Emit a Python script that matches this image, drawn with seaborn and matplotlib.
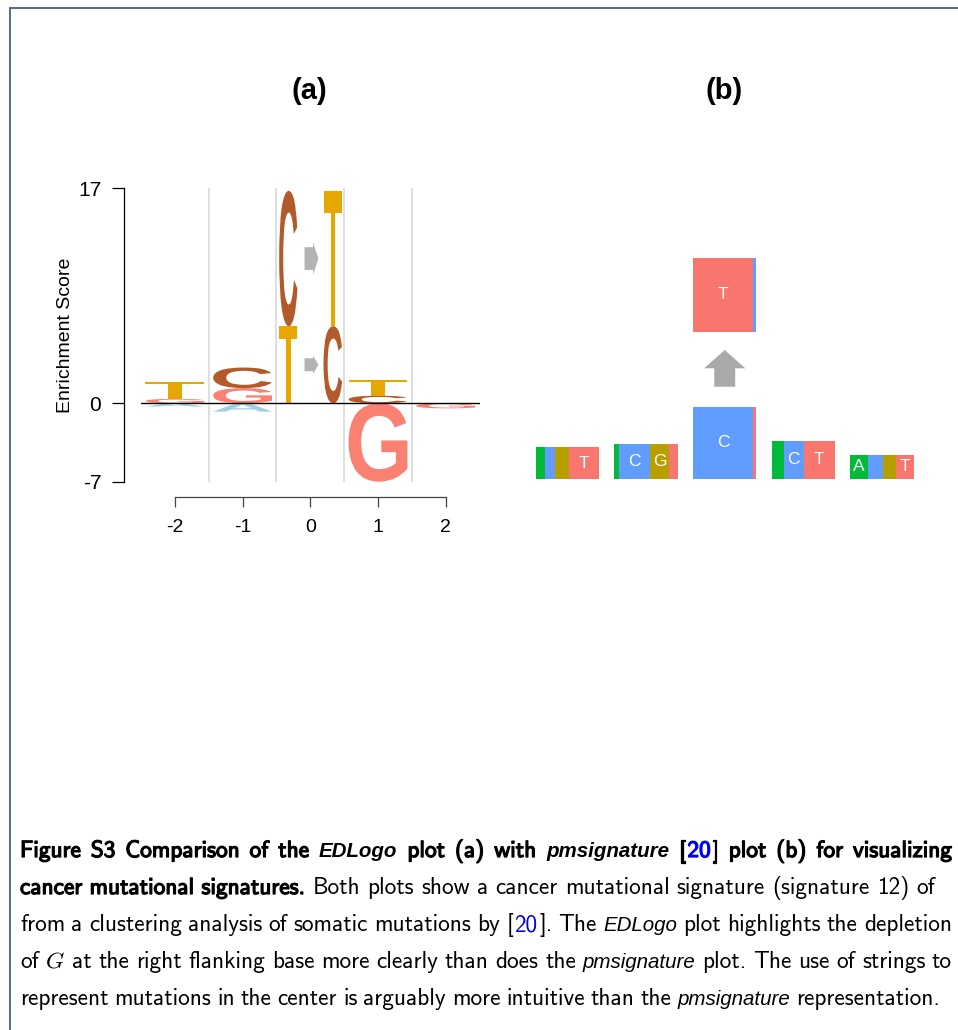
import numpy as np
import matplotlib
matplotlib.use('Agg')
import matplotlib.pyplot as plt
import seaborn as sns
from matplotlib.textpath import TextPath
from matplotlib.patches import PathPatch, Polygon
from matplotlib.font_manager import FontProperties
from matplotlib.transforms import Affine2D, IdentityTransform
from matplotlib.lines import Line2D
import matplotlib.patheffects as pe

# ---------------- data: panel (a) EDLogo ----------------
flank_pos = [-2, -1, 1, 2]
up_letters = [['G', 'T'], ['G', 'C'], ['C', 'T'], []]
up_heights = [[0.35, 1.37], [1.2, 1.63], [0.6, 1.26], []]
down_letters = [['A'], ['A'], ['G'], ['G']]
down_heights = [[0.3], [0.75], [7.0], [0.45]]
mut_from = ['T', 'C']
mut_to = ['C', 'T']
mut_heights = [6.1, 10.7]
x_ticks = [-2, -1, 0, 1, 2]
y_ticks = [-7, 0, 17]
logo_colors = {'A': '#A6CEE3', 'C': '#B35A2A', 'G': '#FA8072', 'T': '#E6A800'}
logo_arrow_color = '#B3B3B3'

# ---------------- data: panel (b) pmsignature ----------------
bases = ['A', 'C', 'G', 'T']
flank_probs = [[0.143, 0.159, 0.222, 0.476],
               [0.079, 0.476, 0.309, 0.136],
               [0.190, 0.317, 0.000, 0.493],
               [0.281, 0.240, 0.198, 0.281]]
flank_heights = [0.50, 0.55, 0.60, 0.38]
ref_bases = ['C', 'T']
ref_probs = [0.95, 0.05]
ref_height = 1.14
alt_bases = ['T', 'C']
alt_probs = [0.95, 0.05]
alt_height = 1.165
pm_colors = {'A': '#00BA38', 'C': '#619CFF', 'G': '#B79F00', 'T': '#F8766D'}
pm_arrow_color = '#A9A9A9'

# ---------------- style ----------------
sns.set_theme(style='white')
plt.rcParams['font.family'] = ['Liberation Sans', 'DejaVu Sans']
plt.rcParams['axes.unicode_minus'] = False
plt.rcParams['mathtext.fontset'] = 'cm'
for k in ['text.color', 'axes.labelcolor', 'xtick.color', 'ytick.color']:
    plt.rcParams[k] = 'black'

W, H = 958, 1030
fig = plt.figure(figsize=(W / 100, H / 100), dpi=100)
fig.patch.set_facecolor('white')

GLYPH_FP = FontProperties(family='Liberation Sans', weight='bold')


def draw_glyph(ax, ch, x0, y0, w, h, color):
    tp = TextPath((0, 0), ch, size=1, prop=GLYPH_FP)
    bb = tp.get_extents()
    tr = Affine2D().translate(-bb.x0, -bb.y0).scale(w / bb.width, h / bb.height).translate(x0, y0)
    ax.add_patch(PathPatch(tr.transform_path(tp), fc=color, ec='none', lw=0, zorder=2))


# ---------------- panel (a) ----------------
NEG = 0.886


def fwd(y):
    y = np.asarray(y, dtype=float)
    return np.where(y >= 0, y, y * NEG)


def inv(v):
    v = np.asarray(v, dtype=float)
    return np.where(v >= 0, v, v / NEG)


ax = fig.add_axes([141.05 / W, (H - 481.7) / H, 338.5 / W, 293.3 / H])
ax.set_yscale('function', functions=(fwd, inv))
ax.set_xlim(-2.5, 2.5)
ax.set_ylim(-7, 17)
ax.set_xticks(x_ticks)
ax.set_xticklabels([str(v) for v in x_ticks])
ax.set_yticks(y_ticks)
ax.set_yticklabels([str(v) for v in y_ticks])
ax.yaxis.set_minor_locator(matplotlib.ticker.NullLocator())
ax.set_facecolor('white')

ax.vlines([-1.5, -0.5, 0.5, 1.5], -7, 17, color='#D9D9D9', lw=1.2, zorder=0)
ax.axhline(0, color='black', lw=1.0, zorder=3)

LW = 0.87
for p, ul, uh, dl, dh in zip(flank_pos, up_letters, up_heights, down_letters, down_heights):
    base = 0.0
    for ch, h in zip(ul, uh):
        draw_glyph(ax, ch, p - LW / 2, base, LW, h, logo_colors[ch])
        base += h
    base = 0.0
    for ch, h in zip(dl, dh):
        draw_glyph(ax, ch, p - LW / 2, base - h, LW, h, logo_colors[ch])
        base -= h

base = 0.0
for fr, to, h in zip(mut_from, mut_to, mut_heights):
    draw_glyph(ax, fr, -0.46, base, 0.27, h, logo_colors[fr])
    draw_glyph(ax, to, 0.195, base, 0.275, h, logo_colors[to])
    mid = base + h / 2
    ah = 0.24 * h
    bh = 0.70 * ah
    x0, x1, x2 = -0.085, 0.04, 0.12
    arrow = Polygon([[x0, mid - bh / 2], [x1, mid - bh / 2], [x1, mid - ah / 2], [x2, mid],
                     [x1, mid + ah / 2], [x1, mid + bh / 2], [x0, mid + bh / 2]],
                    closed=True, fc=logo_arrow_color, ec='none', zorder=2)
    ax.add_patch(arrow)
    base += h

ax.set_ylabel('Enrichment Score', fontsize=14, labelpad=3, color='black')
ax.tick_params(axis='y', length=8.6, width=0.9, pad=8, labelsize=15, colors='black', left=True)
ax.tick_params(axis='x', length=7.2, width=0.9, pad=9, labelsize=14, colors='black', bottom=True,
               direction='out')
for s in ['left', 'bottom']:
    ax.spines[s].set_color('black')
    ax.spines[s].set_linewidth(0.9)
sns.despine(ax=ax, offset={'left': 12, 'bottom': 11}, trim=True)
ax.spines['bottom'].set_color('#444444')
ax.tick_params(axis='x', color='#444444')

fig.text(309 / W, 1 - 91 / H, '(a)', ha='center', va='center', fontsize=21, fontweight='bold',
         color='black')
fig.text(724 / W, 1 - 91 / H, '(b)', ha='center', va='center', fontsize=21, fontweight='bold',
         color='black')

# ---------------- panel (b) ----------------
PXU = 63.5
bx0, bx1, by0, by1 = 520, 930, 490, 240
axb = fig.add_axes([bx0 / W, (H - by0) / H, (bx1 - bx0) / W, (by0 - by1) / H])
axb.set_xlim((bx0 - 567.5) / PXU, (bx1 - 567.5) / PXU)
axb.set_ylim((479 - by0) / PXU, (479 - by1) / PXU)
axb.axis('off')

SPACING = 1.238
slots = [0, 1, 3, 4]


def stacked_box(axx, cx, y0, probs, names, height, label_min):
    lefts = cx - 0.5 + np.concatenate([[0], np.cumsum(probs)[:-1]])
    axx.bar(lefts, [height] * len(probs), width=probs, bottom=y0, align='edge',
            color=[pm_colors[n] for n in names], linewidth=0)
    for l, pr, n in zip(lefts, probs, names):
        if pr >= label_min:
            axx.text(l + pr / 2, y0 + height / 2, n, ha='center', va='center', color='white',
                     fontsize=12.5)


for s, probs, h in zip(slots, flank_probs, flank_heights):
    stacked_box(axb, s * SPACING, 0.0, probs, bases, h, 0.25)

cxc = 2 * SPACING
stacked_box(axb, cxc, 0.0, ref_probs, ref_bases, ref_height, 0.25)
alt_y0 = (479 - 331.7) / PXU
stacked_box(axb, cxc, alt_y0, alt_probs, alt_bases, alt_height, 0.25)
ab0, ab1, atip = 1.453, 1.743, 2.031
axb.add_patch(Polygon([[cxc - 0.165, ab0], [cxc + 0.165, ab0], [cxc + 0.165, ab1], [cxc + 0.325, ab1],
                       [cxc, atip], [cxc - 0.325, ab1], [cxc - 0.165, ab1]],
                      closed=True, fc=pm_arrow_color, ec='none'))

# ---------------- frame lines ----------------
fig.add_artist(Line2D([9.5 / W, 9.5 / W], [0, 1 - 7.5 / H], transform=fig.transFigure,
                      color='#4E6D9C', lw=1.4))
fig.add_artist(Line2D([9.5 / W, 1], [1 - 7.5 / H, 1 - 7.5 / H], transform=fig.transFigure,
                      color='#4E6D9C', lw=1.4))

# ---------------- caption ----------------
CAP = 16.8
cap_runs = [
    [("Figure S3 Comparison of the ", 'b'), ("EDLogo", 'bi'), (" plot (a) with ", 'b'),
     ("pmsignature", 'bi'), (" [", 'b'), ("20", 'bl'), ("] plot (b) for visualizing", 'b')],
    [("cancer mutational signatures.", 'b'),
     (" Both plots show a cancer mutational signature (signature 12) of", 'r')],
    [("from a clustering analysis of somatic mutations by [", 'r'), ("20", 'l'), ("]. The ", 'r'),
     ("EDLogo", 'i'), (" plot highlights the depletion", 'r')],
    [("of ", 'r'), ("$G$", 'm'), (" at the right flanking base more clearly than does the ", 'r'),
     ("pmsignature", 'i'), (" plot. The use of strings to", 'r')],
    [("represent mutations in the center is arguably more intuitive than the ", 'r'),
     ("pmsignature", 'i'), (" representation.", 'r')],
]
cap_right = [952, 935, 952, 952, 940]
cap_base = [857, 894, 931, 968, 1005]
cap_left = 20


def style_kw(st):
    if st in ('r', 'l'):
        return dict(family='cmss10', fontsize=CAP, color='#0000EE' if st == 'l' else 'black')
    if st in ('b', 'bl'):
        c = '#0000EE' if st == 'bl' else 'black'
        return dict(family='cmss10', fontsize=CAP, color=c,
                    path_effects=[pe.withStroke(linewidth=0.9, foreground=c)])
    if st == 'i':
        return dict(family='Liberation Sans', style='italic', fontsize=CAP * 0.88, color='black')
    if st == 'bi':
        return dict(family='Liberation Sans', style='italic', weight='bold', fontsize=CAP * 0.88,
                    color='black')
    return dict(fontsize=CAP, color='black')


renderer = fig.canvas.get_renderer()
for runs, xr, yb in zip(cap_runs, cap_right, cap_base):
    words = [[]]
    for text, st in runs:
        parts = text.split(' ')
        for k, part in enumerate(parts):
            if k > 0:
                words.append([])
            if part:
                words[-1].append((part, st))
    words = [w for w in words if w]
    placed = []
    widths = []
    for w in words:
        segs = []
        tot = 0.0
        for i, (s, st) in enumerate(w):
            t = fig.text(0, H - yb, s, transform=IdentityTransform(), ha='left', va='baseline',
                         **style_kw(st))
            wd = t.get_window_extent(renderer).width
            segs.append((t, tot))
            tot += wd + (1.5 if i < len(w) - 1 else 0)
        placed.append(segs)
        widths.append(tot)
    gap = (xr - cap_left - sum(widths)) / max(len(words) - 1, 1)
    x = cap_left
    for segs, wd in zip(placed, widths):
        for t, off in segs:
            t.set_x(x + off)
        x += wd + gap

fig.savefig('out.png', dpi=100, facecolor='white')
